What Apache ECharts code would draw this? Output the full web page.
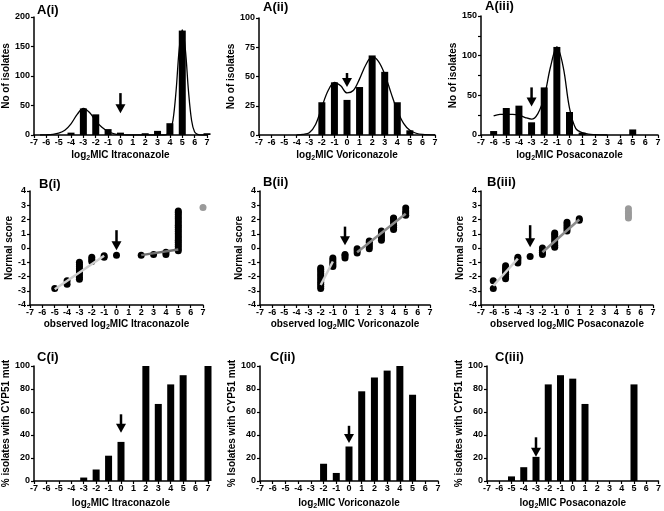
<!DOCTYPE html>
<html><head><meta charset="utf-8">
<script src="https://cdn.jsdelivr.net/npm/echarts/dist/echarts.min.js"></script>
<style>html,body{margin:0;padding:0;background:#fff}#c{width:664px;height:511px}</style>
</head><body><div id="c"></div><script>
// ---- data ----
const drugs = ['Itraconazole', 'Voriconazole', 'Posaconazole'];
const panelTitles = ['A(i)', 'A(ii)', 'A(iii)', 'B(i)', 'B(ii)', 'B(iii)', 'C(i)', 'C(ii)', 'C(iii)'];
const yNames = ['No of isolates', 'Normal score', '% isolates with CYP51 mut', '% Isolates with CYP51 mut'];

// Row A: number of isolates per log2 MIC (bars) and fitted curve
const aItrBars = [[-4,4],[-3,45],[-2,35],[-1,10],[0,4],[2,3],[3,7],[4,20],[5,177],[7,3]];
const aItrCurve = [[-6.5,0],[-6,0.3],[-5.5,1],[-5,3],[-4.5,8],[-4,19],[-3.5,35],[-3,45],[-2.5,38],[-2,24],[-1.5,13],[-1,6],[-0.5,2],[0,0.5],[0.5,0],[1.5,0],[2.5,0],[3.5,0],[3.75,1],[4,5],[4.25,25],[4.5,75],[4.75,145],[5,178],[5.25,145],[5.5,75],[5.75,25],[6,5],[6.25,1],[6.5,0],[7,0]];
const aVorBars = [[-2,28],[-1,45],[0,30],[1,41],[2,68],[3,54],[4,28],[5,4]];
const aVorCurve = [[-4,0],[-3.5,0.5],[-3,2],[-2.5,9],[-2,24],[-1.5,38],[-1,45],[-0.5,42],[0,36],[0.5,38],[1,48],[1.5,60],[2,67],[2.5,63],[3,52],[3.5,36],[4,21],[4.5,10],[5,4],[5.5,1.5],[6,0.5],[7,0]];
const aPosBars = [[-6,5],[-5,34],[-4,37],[-3,16],[-2,60],[-1,111],[0,29],[1,3],[5,7]];
const aPosCurve = [[-6,24],[-5.5,26],[-5,26],[-4.5,26],[-4,25],[-3.5,22],[-3,20],[-2.5,27],[-2,48],[-1.5,86],[-1,111],[-0.5,86],[0,34],[0.5,8],[1,3],[1.5,1],[2,0.5],[3,0]];

// Row B: normal scores vs observed log2 MIC
const bItrDots = [[-5,-2.85],[-4,-2.55],[-4,-2.3],[-3,-2.2],[-3,-2.05],[-3,-1.9],[-3,-1.75],[-3,-1.6],[-3,-1.45],[-3,-1.3],[-3,-1.15],[-3,-1.0],[-2,-0.95],[-2,-0.8],[-2,-0.65],[-1,-0.65],[-1,-0.55],[0,-0.5],[2,-0.5],[3,-0.45],[4,-0.45],[4,-0.3],[5,-0.2],[5,-0.05],[5,0.1],[5,0.25],[5,0.4],[5,0.55],[5,0.7],[5,0.85],[5,1.0],[5,1.15],[5,1.3],[5,1.45],[5,1.6],[5,1.75],[5,1.9],[5,2.05],[5,2.2],[5,2.35],[5,2.5],[5,2.6]];
const bItrGrey = [[7,2.85]];
const bItrFitLow = [[-5,-2.9],[-1,-0.55]];
const bItrFitHigh = [[2,-0.5],[5,-0.1]];
const bVorDots = [[-2,-2.85],[-2,-2.7],[-2,-2.55],[-2,-2.4],[-2,-2.25],[-2,-2.1],[-2,-1.95],[-2,-1.8],[-2,-1.65],[-2,-1.5],[-2,-1.4],[-1,-1.3],[-1,-1.15],[-1,-1.0],[-1,-0.85],[-1,-0.7],[0,-0.7],[0,-0.55],[0,-0.45],[1,-0.35],[1,-0.2],[1,-0.05],[2,-0.05],[2,0.1],[2,0.25],[2,0.4],[2,0.5],[3,0.55],[3,0.7],[3,0.85],[3,1.0],[3,1.2],[4,1.3],[4,1.45],[4,1.6],[4,1.75],[4,1.9],[4,2.05],[4,2.1],[5,2.3],[5,2.45],[5,2.6],[5,2.8]];
const bVorGrey = [];
const bVorFitLow = [[-2,-2.6],[-1,-0.95]];
const bVorFitHigh = [[1,-0.3],[5,2.4]];
const bPosDots = [[-6,-2.85],[-6,-2.3],[-5,-2.15],[-5,-2.0],[-5,-1.85],[-5,-1.7],[-5,-1.55],[-5,-1.4],[-5,-1.25],[-4,-1.05],[-4,-0.9],[-4,-0.75],[-4,-0.65],[-3,-0.6],[-2,-0.45],[-2,-0.3],[-2,-0.15],[-2,0.0],[-1,0.05],[-1,0.2],[-1,0.35],[-1,0.5],[-1,0.65],[-1,0.8],[-1,0.95],[-1,1.05],[0,1.2],[0,1.35],[0,1.5],[0,1.65],[0,1.8],[1,1.95],[1,2.05]];
const bPosGrey = [[5,2.1],[5,2.25],[5,2.4],[5,2.55],[5,2.75]];
const bPosFitLow = [[-6,-2.65],[-4,-0.75]];
const bPosFitHigh = [[-2,-0.3],[1,2.0]];

// Row C: % isolates with CYP51 mutation
const cItrBars = [[-3,3],[-2,10],[-1,22],[0,34],[2,100],[3,67],[4,84],[5,92],[7,100]];
const cVorBars = [[-2,15],[-1,7],[0,30],[1,78],[2,90],[3,96],[4,100],[5,75]];
const cPosBars = [[-5,4],[-4,12],[-3,21],[-2,84],[-1,92],[0,89],[1,67],[5,84]];

// Arrows: [x, start y, tip y]
const arrowsA = [[0,71,37],[0,53,41],[-3,60,36]];
const arrowsB = [[0,1.25,-0.15],[0,1.5,0.2],[-3,1.6,0.05]];
const arrowsC = [[0,58,42],[0,48,33],[-3,38,21]];

// y-axis ranges: [min, max, interval]
const yRanges = [[0,200,50],[0,100,25],[0,150,50],[-4,4,1],[-4,4,1],[-4,4,1],[0,100,20],[0,100,20],[0,100,20]];

// ---- layout ----
const FONT = "'Liberation Sans', Arial, sans-serif";
const grids = [
  {left:30, top:17, width:177, height:118},
  {left:259, top:18, width:176, height:117},
  {left:481, top:16, width:177, height:119},
  {left:30, top:191, width:173, height:114},
  {left:260, top:191, width:170, height:114},
  {left:481, top:191, width:172, height:114},
  {left:33, top:366, width:175, height:117},
  {left:260, top:366, width:178, height:117},
  {left:487, top:366, width:175, height:118}
];
const titlePos = [[37,4],[263,1],[485,0],[39,178],[263,176],[487,176],[37,351],[270,351],[495,351]];
const yGaps = [20,20,17,14,14,12,23,20,23];
const xGaps = [13,13,13,12,12,12,15,15,15];

const rich = {
  n: {fontSize:10, fontWeight:'bold', fontFamily:FONT, color:'#000', lineHeight:14},
  s: {fontSize:7, fontWeight:'bold', fontFamily:FONT, color:'#000', lineHeight:7, verticalAlign:'bottom'}
};
function xName(i) {
  const drug = drugs[i % 3];
  const pre = (Math.floor(i/3) === 1) ? '{n|observed }' : '';
  return pre + '{n|log}{s|2}{n|MIC ' + drug + '}';
}
function yName(i) {
  const r = Math.floor(i/3);
  if (r === 0) return yNames[0];
  if (r === 1) return yNames[1];
  return i === 7 ? yNames[3] : yNames[2];
}
const lbl = {fontSize:9, fontWeight:'bold', color:'#000', fontFamily:FONT};
const axLine = {show:true, onZero:false, lineStyle:{color:'#000', width:1.5}};
const axTick = {show:true, length:3, lineStyle:{color:'#000', width:1.2}};

const xAxes = [], yAxes = [], titles = [];
for (let i = 0; i < 9; i++) {
  xAxes.push({gridIndex:i, type:'value', min:-7, max:7, interval:1,
    axisLine:axLine, axisTick:axTick, splitLine:{show:false},
    axisLabel:Object.assign({margin:3}, lbl),
    name:xName(i), nameLocation:'middle', nameGap:xGaps[i],
    nameTextStyle:{rich:rich}});
  const yr = yRanges[i];
  yAxes.push({gridIndex:i, type:'value', min:yr[0], max:yr[1], interval:yr[2],
    axisLine:axLine, axisTick:axTick, splitLine:{show:false},
    minorTick:{show: i === 2, splitNumber:2, length:3, lineStyle:{color:'#000', width:1.2}},
    axisLabel:Object.assign({margin:4}, lbl),
    name:yName(i), nameLocation:'middle', nameGap:yGaps[i],
    nameTextStyle:{fontSize:10, fontWeight:'bold', color:'#000', fontFamily:FONT}});
  titles.push({text:panelTitles[i], left:titlePos[i][0], top:titlePos[i][1], padding:0,
    textStyle:{fontSize:13, fontWeight:'bold', color:'#000', fontFamily:FONT}});
}

const series = [];
function arrow(gi, a) {
  series.push({type:'custom', xAxisIndex:gi, yAxisIndex:gi, data:[a], silent:true, z:6,
    renderItem: function (params, api) {
      const p1 = api.coord([api.value(0), api.value(1)]);
      const p2 = api.coord([api.value(0), api.value(2)]);
      const head = 9, hw = 5;
      return {type:'group', children:[
        {type:'line', shape:{x1:p1[0], y1:p1[1], x2:p2[0], y2:p2[1]-head+1},
          style:{stroke:'#000', lineWidth:2.5}},
        {type:'polygon', shape:{points:[[p2[0]-hw, p2[1]-head],[p2[0]+hw, p2[1]-head],[p2[0], p2[1]]]},
          style:{fill:'#000'}}
      ]};
    }});
}
function bars(gi, data) {
  series.push({type:'bar', xAxisIndex:gi, yAxisIndex:gi, data:data, barWidth:7,
    itemStyle:{color:'#000'}, silent:true});
}
function curve(gi, data) {
  series.push({type:'line', xAxisIndex:gi, yAxisIndex:gi, data:data, smooth:0.35,
    showSymbol:false, lineStyle:{color:'#000', width:1.3}, z:3, silent:true});
}
function dots(gi, data, color) {
  series.push({type:'scatter', xAxisIndex:gi, yAxisIndex:gi, data:data, symbolSize:7,
    itemStyle:{color:color, opacity:1}, silent:true});
}
function fit(gi, data, color) {
  series.push({type:'line', xAxisIndex:gi, yAxisIndex:gi, data:data, showSymbol:false,
    lineStyle:{color:color, width:2.5}, z:4, silent:true});
}

const aBars = [aItrBars, aVorBars, aPosBars];
const aCurves = [aItrCurve, aVorCurve, aPosCurve];
const bDots = [bItrDots, bVorDots, bPosDots];
const bGrey = [bItrGrey, bVorGrey, bPosGrey];
const bLow = [bItrFitLow, bVorFitLow, bPosFitLow];
const bHigh = [bItrFitHigh, bVorFitHigh, bPosFitHigh];
const cBars = [cItrBars, cVorBars, cPosBars];
for (let k = 0; k < 3; k++) {
  bars(k, aBars[k]);
  curve(k, aCurves[k]);
  arrow(k, arrowsA[k]);
  dots(3+k, bDots[k], '#000');
  if (bGrey[k].length) dots(3+k, bGrey[k], '#9a9a9a');
  fit(3+k, bLow[k], '#cfcfcf');
  fit(3+k, bHigh[k], k === 0 ? '#6e6e6e' : '#8c8c8c');
  arrow(3+k, arrowsB[k]);
  bars(6+k, cBars[k]);
  arrow(6+k, arrowsC[k]);
}

const chart = echarts.init(document.getElementById('c'), null, {renderer:'canvas'});
chart.setOption({
  animation:false, backgroundColor:'#fff',
  title:titles, grid:grids, xAxis:xAxes, yAxis:yAxes, series:series
});
</script></body></html>
